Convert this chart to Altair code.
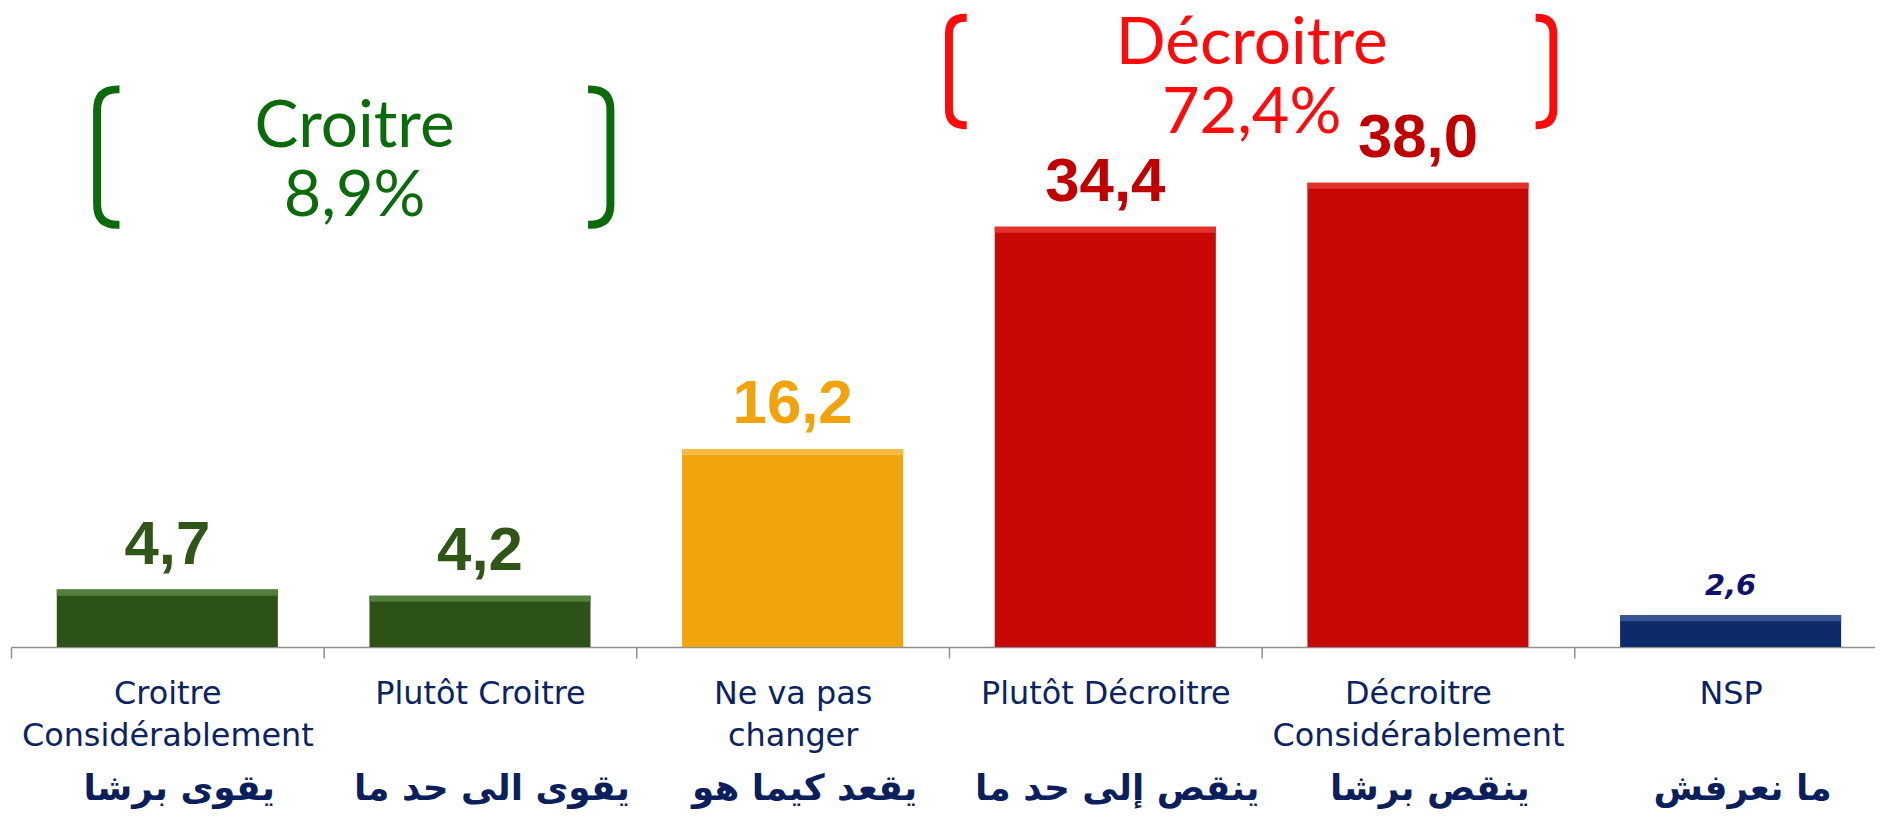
import altair as alt
import pandas as pd

# ---- data ----
categories = ["Croitre|Considérablement", "Plutôt Croitre", "Ne va pas|changer",
              "Plutôt Décroitre", "Décroitre|Considérablement", "NSP"]
arabic = ["يقوى برشا", "يقوى الى حد ما", "يقعد كيما هو",
          "ينقص إلى حد ما", "ينقص برشا", "ما نعرفش"]
values = [4.7, 4.2, 16.2, 34.4, 38.0, 2.6]
bar_colors = ["#2d5217", "#2d5217", "#f1a40b", "#c80707", "#c80707", "#0d2a6a"]
strip_colors = ["#52803a", "#52803a", "#f6bb44", "#e2322c", "#e2322c", "#34548f"]
label_colors = ["#2f5616", "#2f5616", "#f0a30a", "#c00000", "#c00000", "#10106e"]

croitre_sum = values[0] + values[1]
decroitre_sum = values[3] + values[4]

df = pd.DataFrame({
    "cat": categories,
    "value": values,
    "color": bar_colors,
    "strip": strip_colors,
    "lcolor": label_colors,
    "label": [f"{v:.1f}".replace(".", ",") for v in values],
})
df["strip_bottom"] = df["value"] - 0.5

W, H = 1872, 640
x_scale = alt.Scale(domain=categories, range=[0, 1884], paddingInner=0, paddingOuter=0)
y_scale = alt.Scale(domain=[0, 52.16], nice=False, zero=True)

navy = "#0a2362"
fr_axis = alt.Axis(orient="bottom", title=None, labelAngle=0, grid=False,
                   labelExpr="split(datum.label, '|')",
                   labelFont="DejaVu Sans", labelFontSize=32, labelColor=navy,
                   labelLineHeight=42, labelPadding=21, labelLimit=0,
                   labelOverlap=False,
                   tickBand="extent", tickSize=11, tickColor="#8f8f8f", tickWidth=1.5,
                   domainColor="#8f8f8f", domainWidth=1.5)

ar_js = "[" + ",".join(f"'{a}'" for a in arabic) + "]"
cat_js = "[" + ",".join(f"'{c}'" for c in categories) + "]"
ar_axis = alt.Axis(orient="bottom", title=None, labelAngle=0, grid=False,
                   labelExpr=f"{ar_js}[indexof({cat_js}, datum.label)]",
                   labelFont="DejaVu Sans", labelFontWeight="bold", labelFontSize=36,
                   labelColor="#0a1f5c", labelBaseline="alphabetic",
                   labelPadding=153, labelOffset=12, labelLimit=0, labelOverlap=False,
                   domain=False, ticks=False, tickSize=0)

base = alt.Chart(df)

bars = base.mark_bar(size=222).encode(
    x=alt.X("cat:N", scale=x_scale, axis=fr_axis, sort=categories),
    y=alt.Y("value:Q", scale=y_scale, axis=None),
    color=alt.Color("color:N", scale=None),
)
strip = base.mark_bar(size=222).encode(
    x=alt.X("cat:N", scale=x_scale, axis=None, sort=categories),
    y=alt.Y("value:Q", scale=y_scale, axis=None),
    y2="strip_bottom:Q",
    color=alt.Color("strip:N", scale=None),
)
vlabels = base.transform_filter(alt.datum.cat != "NSP").mark_text(
    font="Liberation Sans", fontWeight="bold", fontSize=62, dy=-26,
    baseline="alphabetic", align="center").encode(
    x=alt.X("cat:N", scale=x_scale, axis=ar_axis, sort=categories),
    y=alt.Y("value:Q", scale=y_scale, axis=None),
    text="label:N",
    color=alt.Color("lcolor:N", scale=None),
)
nsp_label = base.transform_filter(alt.datum.cat == "NSP").mark_text(
    font="DejaVu Sans", fontWeight="bold", fontStyle="italic", fontSize=29, dy=-20,
    baseline="alphabetic", align="center").encode(
    x=alt.X("cat:N", scale=x_scale, axis=None, sort=categories),
    y=alt.Y("value:Q", scale=y_scale, axis=None),
    text="label:N",
    color=alt.Color("lcolor:N", scale=None),
)

one = pd.DataFrame({"k": [0]})
ann = alt.Chart(one)
left_path = "M 0.33 -1 L 0.3 -1 Q 0 -1 0 -0.7 L 0 0.7 Q 0 1 0.3 1 L 0.33 1"
right_path = "M -0.33 -1 L -0.3 -1 Q 0 -1 0 -0.7 L 0 0.7 Q 0 1 -0.3 1 L -0.33 1"


def bracket(path, x, y, half, color):
    return ann.mark_point(shape=path, filled=False, stroke=color, strokeWidth=8,
                          size=4 * half * half, opacity=1, strokeCap="butt").encode(
        x=alt.value(x), y=alt.value(y))


def ann_text(txt, x, y, color, size):
    return ann.mark_text(text=txt, font="Lato", fontSize=size, color=color,
                         align="center", baseline="alphabetic").encode(
        x=alt.value(x), y=alt.value(y))


green = "#0b6b0b"
red = "#ff0a0a"
annots = (
    bracket(left_path, 86.5, 148, 68, green) + bracket(right_path, 602, 148, 68, green)
    + bracket(left_path, 942, 62, 54, red) + bracket(right_path, 1549, 62, 54, red)
    + ann_text("Croitre", 345, 138, green, 66)
    + ann_text(f"{croitre_sum:.1f}%".replace(".", ","), 345, 207, green, 65)
    + ann_text("Décroitre", 1246, 55, red, 66)
    + ann_text(f"{decroitre_sum:.1f}%".replace(".", ","), 1246, 124, red, 65)
)

chart = alt.layer(bars, strip, vlabels, nsp_label, annots).resolve_axis(
    x="independent").properties(
    width=W, height=H,
    autosize=alt.AutoSizeParams(type="none"),
    padding={"left": 3, "top": 0, "right": 0, "bottom": 171},
).configure_view(stroke=None)

chart.save("out.html", embed_options={"renderer": "svg", "actions": False})
